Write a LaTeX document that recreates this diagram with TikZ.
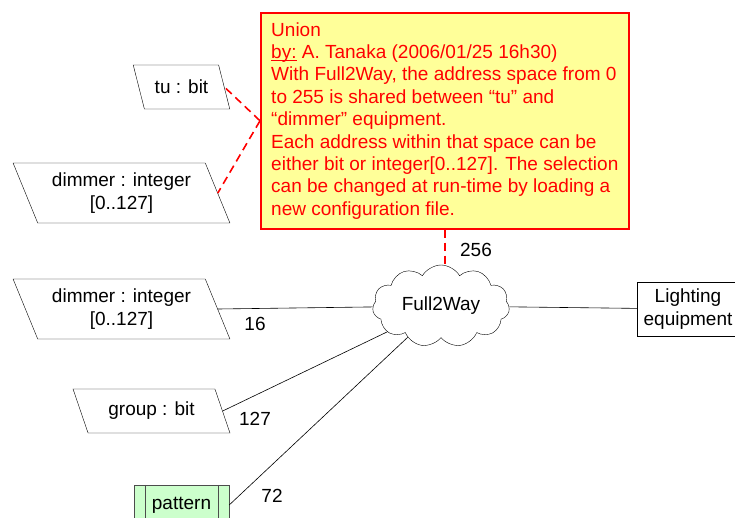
\documentclass[tikz,border=0pt]{standalone}
\usepackage{fontspec}
\setmainfont{Liberation Sans}
\usetikzlibrary{shapes.geometric,shapes.symbols}
\definecolor{notefill}{HTML}{FFFF99}
\definecolor{notered}{HTML}{FF0000}
\definecolor{patfill}{HTML}{CCFFCC}
\newcommand{\ulword}[1]{\setbox0\hbox{#1}\rlap{\rule[-2.5pt]{\wd0}{0.9pt}}\box0\relax}

\begin{document}
\begin{tikzpicture}[x=1pt,y=-1pt,font=\fontsize{19}{22.4}\selectfont,
  data/.style={draw, trapezium, trapezium stretches=true,
    trapezium left angle=120, trapezium right angle=60,
    inner sep=0pt, align=center},
  link/.style={draw, line width=0.6pt},
  notelink/.style={draw=notered, line width=1.6pt, dash pattern=on 8pt off 5pt}]
  \useasboundingbox (0,0) rectangle (735,517);

  % Union note
  \node[draw=notered, line width=1.6pt, fill=notefill, text=notered,
        align=left, minimum width=368pt, minimum height=216pt,
        inner sep=0pt, anchor=north west] (union) at (260,12)
    {Union\\
     \ulword{by:} A. Tanaka (2006/01/25 16h30)\\
     With Full2Way, the address space from 0\\
     to 255 is shared between “tu” and\\
     “dimmer” equipment.\\
     Each address within that space can be\\
     either bit or integer[0..127]. The selection\\
     can be changed at run-time by loading a\\
     new configuration file.};

  % Data nodes
  \node[data, minimum width=97pt, minimum height=44pt] (tu) at (181.5,87) {tu : bit};
  \node[data, trapezium left angle=117, trapezium right angle=63,
        minimum width=217pt, minimum height=60pt] (dimA) at (121.5,193) {dimmer : integer\\{}[0..127]};
  \node[data, trapezium left angle=117, trapezium right angle=63,
        minimum width=217pt, minimum height=60pt] (dimB) at (121.5,309) {dimmer : integer\\{}[0..127]};
  \node[data, minimum width=157pt, minimum height=44pt] (grp) at (151.5,411) {group : bit};
  \node[draw=black!70, fill=patfill, minimum width=95pt, minimum height=40pt] (pat) at (181.5,505) {pattern};
  \draw[black!70] ([xshift=11pt]pat.north west) -- ([xshift=11pt]pat.south west);
  \draw[black!70] ([xshift=-11pt]pat.north east) -- ([xshift=-11pt]pat.south east);

  % Network and equipment
  \node[draw, cloud, cloud puffs=11, cloud puff arc=120, aspect=1.67,
        minimum width=137pt, minimum height=82pt, inner sep=0pt] (net) at (441,306) {Full2Way};
  \node[draw, align=center, minimum width=102pt, minimum height=54pt] (light) at (688,309) {Lighting\\equipment};

  % Connectors
  \draw[link] (dimB.east) -- (net);
  \draw[link] (grp.east) -- (net);
  \draw[link] (pat.east) -- (net);
  \draw[link] (net) -- (light);
  \draw[notelink] (union.south) -- (union.south |- net.north);
  \draw[notelink] (union.west) -- (tu.east);
  \draw[notelink] (union.west) -- (dimA.east);

  % Multiplicities
  \node (n16) at (255,324) {16};
  \node (n127) at (255,419) {127};
  \node (n72) at (272,496) {72};
  \node (n256) at (476,250) {256};
\end{tikzpicture}
\end{document}
